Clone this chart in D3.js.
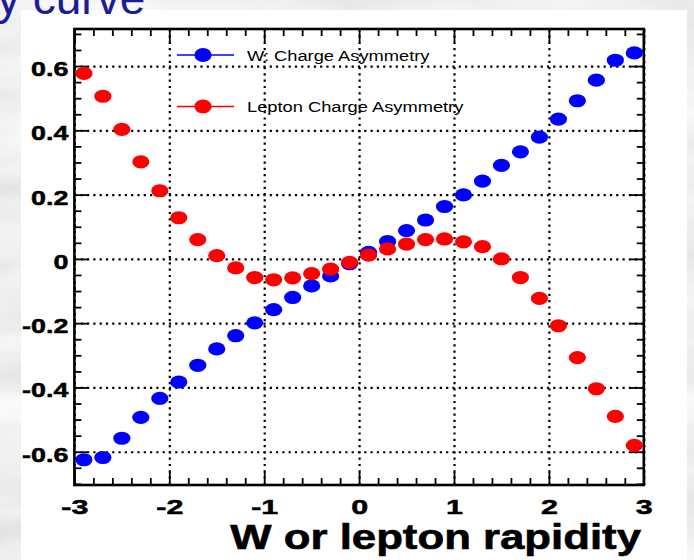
<!DOCTYPE html>
<html>
<head>
<meta charset="utf-8">
<script src="https://cdn.jsdelivr.net/npm/d3@7"></script>
<style>
  html, body { margin: 0; padding: 0; overflow: hidden; background: #d9d9d9; }
  svg { display: block; }
</style>
</head>
<body>
<svg id="chart" width="694" height="560"></svg>
<script>
// Rapidity bin centres
const rapidity = [-2.9, -2.7, -2.5, -2.3, -2.1, -1.9, -1.7, -1.5, -1.3, -1.1,
                  -0.9, -0.7, -0.5, -0.3, -0.1, 0.1, 0.3, 0.5, 0.7, 0.9,
                  1.1, 1.3, 1.5, 1.7, 1.9, 2.1, 2.3, 2.5, 2.7, 2.9];

// W charge asymmetry per bin
const wAsym = [-0.625, -0.618, -0.558, -0.493, -0.434, -0.383, -0.331, -0.280, -0.239, -0.199,
               -0.158, -0.120, -0.084, -0.053, -0.015, 0.020, 0.054, 0.088, 0.121, 0.163,
               0.199, 0.242, 0.291, 0.333, 0.379, 0.435, 0.492, 0.556, 0.618, 0.641];

// Lepton charge asymmetry per bin
const leptonAsym = [0.577, 0.506, 0.403, 0.302, 0.212, 0.128, 0.060, 0.010, -0.028, -0.058,
                    -0.065, -0.059, -0.046, -0.032, -0.011, 0.012, 0.031, 0.046, 0.060, 0.062,
                    0.053, 0.038, 0.000, -0.058, -0.123, -0.208, -0.307, -0.404, -0.490, -0.580];

const seriesNames = ["W: Charge Asymmetry", "Lepton Charge Asymmetry"];
const seriesColors = ["#0000ff", "#ff0000"];

const xTickValues = [-3, -2, -1, 0, 1, 2, 3];
const xTickLabels = ["-3", "-2", "-1", "0", "1", "2", "3"];
const yTickValues = [-0.6, -0.4, -0.2, 0, 0.2, 0.4, 0.6];
const yTickLabels = ["-0.6", "-0.4", "-0.2", "0", "0.2", "0.4", "0.6"];

const xDomain = [-3, 3];
const yDomain = [-0.7035, 0.7153];

const xTitle = "W or lepton rapidity";
const slideTitle = "y curve";

// ---------------------------------------------------------------
const W = 694, H = 560;
const frame = { left: 74.4, right: 643.8, top: 29, bottom: 485 };
const FONT = "'Liberation Sans', Arial, Helvetica, sans-serif";

const svg = d3.select("#chart");
const defs = svg.append("defs");

// grey marble-like slide backdrop
const f = defs.append("filter").attr("id", "marble")
  .attr("filterUnits", "userSpaceOnUse")
  .attr("x", 0).attr("y", 0).attr("width", W).attr("height", H);
f.append("feTurbulence").attr("type", "fractalNoise")
  .attr("baseFrequency", "0.004 0.018").attr("numOctaves", 4).attr("seed", 7);
f.append("feColorMatrix").attr("type", "matrix")
  .attr("values", "0.42 0 0 0 0.65  0.42 0 0 0 0.65  0.42 0 0 0 0.65  0 0 0 0 1");
svg.append("rect").attr("width", W).attr("height", H).attr("filter", "url(#marble)");

// white plot panel
svg.append("rect").attr("x", 21).attr("y", 10).attr("width", 666).attr("height", 550)
  .attr("fill", "#ffffff");

// slide heading fragment (runs off the top edge of the page)
svg.append("text").attr("x", -3).attr("y", 14)
  .attr("font-family", FONT).attr("font-size", 46).attr("fill", "#1c1c96")
  .text(slideTitle);

const x = d3.scaleLinear().domain(xDomain).range([frame.left, frame.right]);
const y = d3.scaleLinear().domain(yDomain).range([frame.bottom, frame.top]);

const fw = frame.right - frame.left, fh = frame.bottom - frame.top;

// dotted grid at the major ticks
const grid = svg.append("g").attr("class", "grid");
grid.append("g").attr("transform", `translate(0,${frame.bottom})`)
  .call(d3.axisBottom(x).tickValues(xTickValues).tickSize(-fh).tickFormat(""));
grid.append("g").attr("transform", `translate(${frame.left},0)`)
  .call(d3.axisLeft(y).tickValues(yTickValues).tickSize(-fw).tickFormat(""));
grid.selectAll(".domain").remove();
grid.selectAll("line").attr("stroke", "#000").attr("stroke-width", 2.2)
  .attr("stroke-dasharray", "2.2 4.1");

// minor tick positions
const xMinor = d3.range(-3, 3.001, 0.2).filter(v => Math.abs(v - Math.round(v)) > 1e-6);
const yMinor = d3.range(-0.7, 0.7001, 0.05).filter(v =>
  Math.abs(v * 5 - Math.round(v * 5)) > 1e-6 && v >= yDomain[0] && v <= yDomain[1]);

const MAJ = -13, MIN = -7;
function axisPair(gen, scale, pos, majors, minors, fmt, pad) {
  const g = svg.append("g").attr("transform", pos);
  g.call(gen(scale).tickValues(majors).tickSize(MAJ).tickSizeOuter(0)
    .tickFormat(fmt || "").tickPadding(pad || 3));
  g.call(sel => sel.append("g").call(gen(scale).tickValues(minors).tickSize(MIN).tickFormat("")));
  g.selectAll(".domain").remove();
  g.selectAll("line").attr("stroke", "#000").attr("stroke-width", 1.8);
  return g;
}

const gxB = axisPair(d3.axisBottom, x, `translate(0,${frame.bottom})`, xTickValues, xMinor,
  (d, i) => xTickLabels[i], 14);
axisPair(d3.axisTop, x, `translate(0,${frame.top})`, xTickValues, xMinor, null);
const gyL = axisPair(d3.axisLeft, y, `translate(${frame.left},0)`, yTickValues, yMinor,
  (d, i) => yTickLabels[i], 6);
axisPair(d3.axisRight, y, `translate(${frame.right},0)`, yTickValues, yMinor, null);

// tick label styling; glyphs drawn a little wide and heavy
function tickFont(sel) {
  sel.attr("font-family", FONT).attr("font-weight", "bold").attr("font-size", 21)
    .attr("fill", "#000").attr("stroke", "#000").attr("stroke-width", 0.5);
}
gxB.selectAll(".tick text").call(tickFont).attr("transform", "scale(1.45,1)");
gyL.selectAll(".tick text").call(tickFont)
  .each(function () {
    const t = d3.select(this);
    const px = +t.attr("x");
    t.attr("x", 0).attr("dy", "0.45em").attr("transform", `translate(${px},0) scale(1.28,1)`);
  });

// frame
svg.append("rect").attr("x", frame.left).attr("y", frame.top)
  .attr("width", fw).attr("height", fh)
  .attr("fill", "none").attr("stroke", "#000").attr("stroke-width", 2.6);

// markers
const RX = 8.6, RY = 6.6;
[wAsym, leptonAsym].forEach((vals, s) => {
  svg.append("g").selectAll("ellipse")
    .data(rapidity.map((r, i) => [r, vals[i]]))
    .join("ellipse")
    .attr("cx", d => x(d[0])).attr("cy", d => y(d[1]))
    .attr("rx", RX).attr("ry", RY)
    .attr("fill", seriesColors[s]);
});

// legend
const legendRows = [55, 106.5];
seriesNames.forEach((name, s) => {
  const g = svg.append("g").attr("transform", `translate(0,${legendRows[s]})`);
  g.append("line").attr("x1", 177).attr("x2", 234).attr("y1", 0).attr("y2", 0)
    .attr("stroke", seriesColors[s]).attr("stroke-width", 1.5);
  g.append("ellipse").attr("cx", 203).attr("cy", 0).attr("rx", RX).attr("ry", 7)
    .attr("fill", seriesColors[s]);
  g.append("text").attr("font-family", FONT).attr("font-size", 15.5).attr("fill", "#000")
    .attr("dy", "0.36em").attr("transform", "translate(247,0) scale(1.18,1)")
    .text(name);
});

// x-axis title
svg.append("text")
  .attr("font-family", FONT).attr("font-weight", "bold").attr("font-size", 35)
  .attr("text-anchor", "end").attr("fill", "#000")
  .attr("stroke", "#000").attr("stroke-width", 0.6)
  .attr("transform", "translate(641,549) scale(1.25,1)")
  .text(xTitle);
</script>
</body>
</html>
